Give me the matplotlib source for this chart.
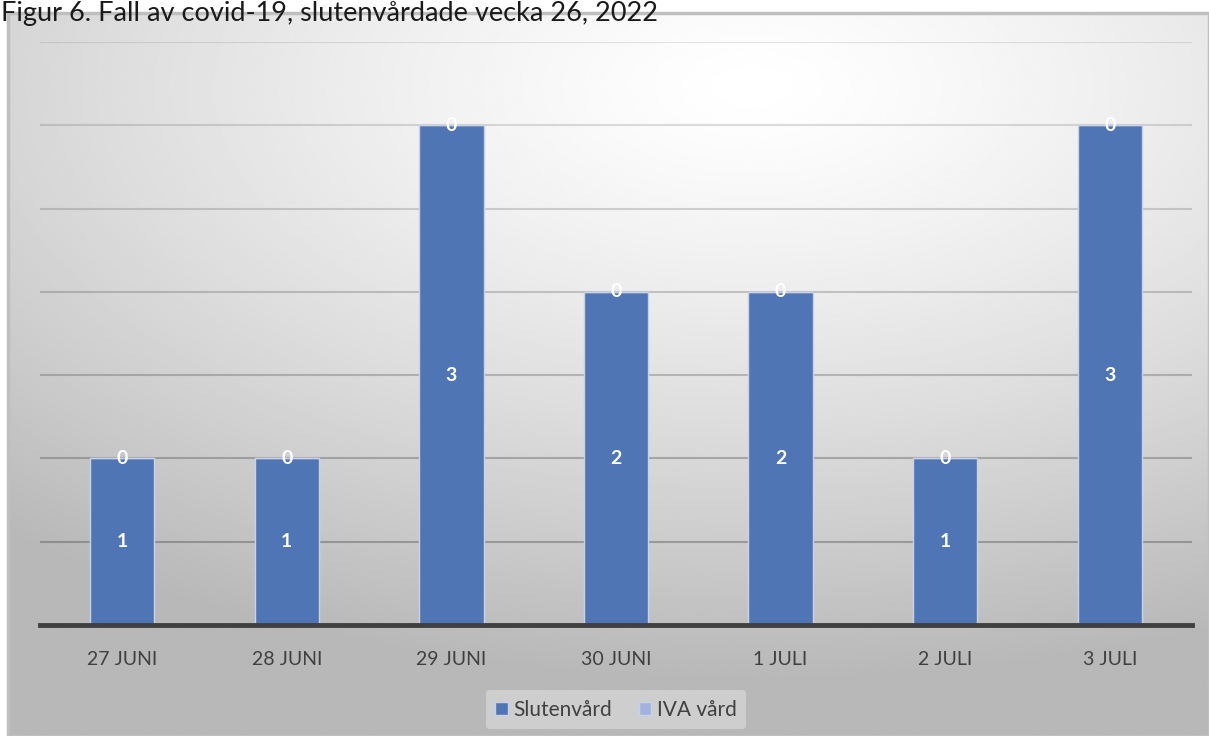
import matplotlib.pyplot as plt
import numpy as np
from matplotlib.patches import Rectangle

plt.rcParams['font.family'] = ['Lato', 'DejaVu Sans']

# data
dagar = ['27 JUNI', '28 JUNI', '29 JUNI', '30 JUNI', '1 JULI', '2 JULI', '3 JULI']
slutenvard = [1, 1, 3, 2, 2, 1, 3]
iva_vard = [0, 0, 0, 0, 0, 0, 0]
titel = 'Figur 6. Fall av covid-19, slutenvårdade vecka 26, 2022'

W, H = 1209, 736
fig = plt.figure(figsize=(W / 100, H / 100), dpi=100)
fig.patch.set_facecolor('white')

# gradient background of the chart area
bg = fig.add_axes([8 / W, 0, 1 - 8 / W, (H - 13) / H])
bg.set_axis_off()
yy, xx = np.mgrid[0:1:300j, 0:1:500j]
d = np.sqrt(((xx - 0.62) * 1.0) ** 2 + ((yy - 0.1) * 1.15) ** 2)
shade = 1.0 - 0.28 * np.clip(d / 0.95, 0, 1) ** 1.3
bg.imshow(shade, cmap='gray', vmin=0, vmax=1, aspect='auto',
          extent=[0, 1, 1, 0], interpolation='bilinear')
bg.set_xlim(0, 1)
bg.set_ylim(1, 0)
bg.add_patch(Rectangle((0, 0), 1, 1, fill=False, edgecolor='#bfbfbf', lw=2.5,
                       transform=bg.transAxes, clip_on=False))

# title sits at the very top (cut off in the source), kept fully inside here
fig.text(0.001, 0.999, titel, fontsize=19.5, color='#1a1a1a', va='top', ha='left', zorder=10)

ax = fig.add_axes([40 / W, (H - 625) / H, (1192 - 40) / W, (625 - 42) / H])
ax.patch.set_alpha(0)

x = np.arange(len(dagar))
b1 = ax.bar(x, slutenvard, width=0.39, color='#5075b5', edgecolor='#c9d3e6',
            linewidth=1, label='Slutenvård', zorder=3)
b2 = ax.bar(x, iva_vard, width=0.39, bottom=slutenvard, color='#a1b2de',
            edgecolor='#c9d3e6', linewidth=1, label='IVA vård', zorder=3)
ax.bar_label(b1, label_type='center', color='white', fontsize=14, fontweight='bold', zorder=4)
ax.bar_label(b2, label_type='center', color='white', fontsize=14, fontweight='bold', zorder=4)

ax.set_xlim(-0.5, len(dagar) - 0.5)
ax.set_ylim(0, 3.5)
for g in np.arange(0.5, 3.51, 0.5):
    a = 0.45 - 0.3 * g / 3.5
    ax.axhline(g, color='#505050', alpha=a, lw=1.5, zorder=1)

for s in ['top', 'right', 'left']:
    ax.spines[s].set_visible(False)
ax.spines['bottom'].set_color('#404040')
ax.spines['bottom'].set_linewidth(3.5)
ax.spines['bottom'].set_zorder(5)
ax.set_yticks([])
ax.set_xticks(x)
ax.set_xticklabels(dagar, fontsize=14, color='#404040')
ax.tick_params(axis='x', length=0, pad=19)

leg = ax.legend(loc='center', bbox_to_anchor=(0.5, -0.145), ncol=2, frameon=True,
                fontsize=15, handlelength=0.6, handleheight=0.6, handletextpad=0.25,
                columnspacing=1.3, borderpad=0.45)
leg.get_frame().set_facecolor('#dedede')
leg.get_frame().set_edgecolor('none')
leg.get_frame().set_alpha(0.6)
for t in leg.get_texts():
    t.set_color('#404040')

fig.savefig('out.png', dpi=100)
